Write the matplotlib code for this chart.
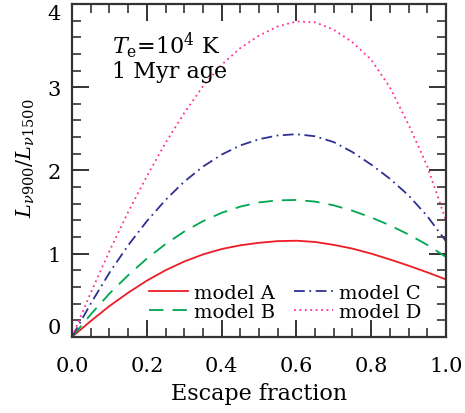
import numpy as np
import matplotlib
matplotlib.use("Agg")
import matplotlib.pyplot as plt

# =====================================
# DATA
# =====================================
f_esc = [0.0, 0.05, 0.1, 0.15, 0.2, 0.25, 0.3, 0.35, 0.4, 0.45, 0.5,
         0.55, 0.6, 0.65, 0.7, 0.75, 0.8, 0.85, 0.9, 0.95, 1.0]

model_a = [0.0, 0.19, 0.37, 0.53, 0.675, 0.80, 0.905, 0.99, 1.055, 1.10, 1.13,
           1.15, 1.155, 1.14, 1.105, 1.06, 1.00, 0.93, 0.855, 0.775, 0.69]
model_b = [0.0, 0.27, 0.52, 0.74, 0.94, 1.115, 1.265, 1.39, 1.49, 1.565, 1.615,
           1.64, 1.645, 1.625, 1.58, 1.515, 1.435, 1.34, 1.23, 1.105, 0.96]
model_c = [0.0, 0.40, 0.77, 1.10, 1.39, 1.645, 1.865, 2.045, 2.19, 2.30, 2.375,
           2.42, 2.435, 2.41, 2.34, 2.22, 2.07, 1.90, 1.70, 1.45, 1.15]
model_d = [0.0, 0.53, 1.03, 1.50, 1.93, 2.33, 2.69, 3.01, 3.27, 3.47, 3.62,
           3.73, 3.79, 3.78, 3.69, 3.54, 3.33, 3.00, 2.55, 2.05, 1.40]

labels = ["model A", "model B", "model C", "model D"]
colors = ["#ED1C24", "#00A650", "#2E3192", "#FF2E9A"]
styles = ["-", (0, (8, 5)), (0, (6, 2.5, 1, 2.5)), (0, (1, 2))]

plt.rcParams["font.family"] = ["DejaVu Serif"]
plt.rcParams["mathtext.fontset"] = "dejavuserif"

fig = plt.figure(figsize=(4.65, 4.14), dpi=100)
ax = fig.add_axes([0.155, 0.184, 0.804, 0.804])

series = [model_a, model_b, model_c, model_d]
for vals, lab, col, ls in zip(series, labels, colors, styles):
    ax.plot(f_esc, vals, color=col, linestyle=ls, linewidth=1.3, label=lab)

ax.set_xlim(0, 1)
ax.set_ylim(0, 4)
ax.set_xticks(np.arange(0, 1.01, 0.2))
ax.set_xticks(np.arange(0, 1.001, 0.05), minor=True)
ax.set_yticks([0, 1, 2, 3, 4])
ax.set_yticks(np.arange(0, 4.001, 0.2), minor=True)
ax.set_xticklabels(["0.0", "0.2", "0.4", "0.6", "0.8", "1.0"])

ax.tick_params(which="both", direction="in", top=True, right=True,
               labelsize=15, color="#333333")
ax.tick_params(which="major", length=12, width=1.4)
ax.tick_params(axis="x", which="major", pad=14)
ax.tick_params(axis="y", which="major", pad=8)
ax.tick_params(which="minor", length=6.5, width=1.2)
for sp in ax.spines.values():
    sp.set_linewidth(1.6)
    sp.set_color("#333333")

# IDL-style: top label sits below its tick, bottom label above
ylabs = ax.get_yticklabels()
ylabs[0].set_va("bottom")
ylabs[-1].set_va("top")

ax.set_xlabel("Escape fraction", fontsize=16, labelpad=5)
ax.set_ylabel(r"$L_{\nu 900}/L_{\nu 1500}$", fontsize=15)
ax.yaxis.set_label_coords(-0.095, 0.54)

ax.text(0.107, 0.877, r"$T_{\rm e}$=10$^4$ K", transform=ax.transAxes,
        fontsize=16, va="center")
ax.text(0.107, 0.80, "1 Myr age", transform=ax.transAxes,
        fontsize=16, va="center")

ax.legend(loc="lower center", bbox_to_anchor=(0.57, -0.005), ncol=2,
          frameon=False, fontsize=14, handlelength=2.0, handletextpad=0.3,
          columnspacing=1.0, labelspacing=0.05)

fig.savefig("out.png", dpi=100)
